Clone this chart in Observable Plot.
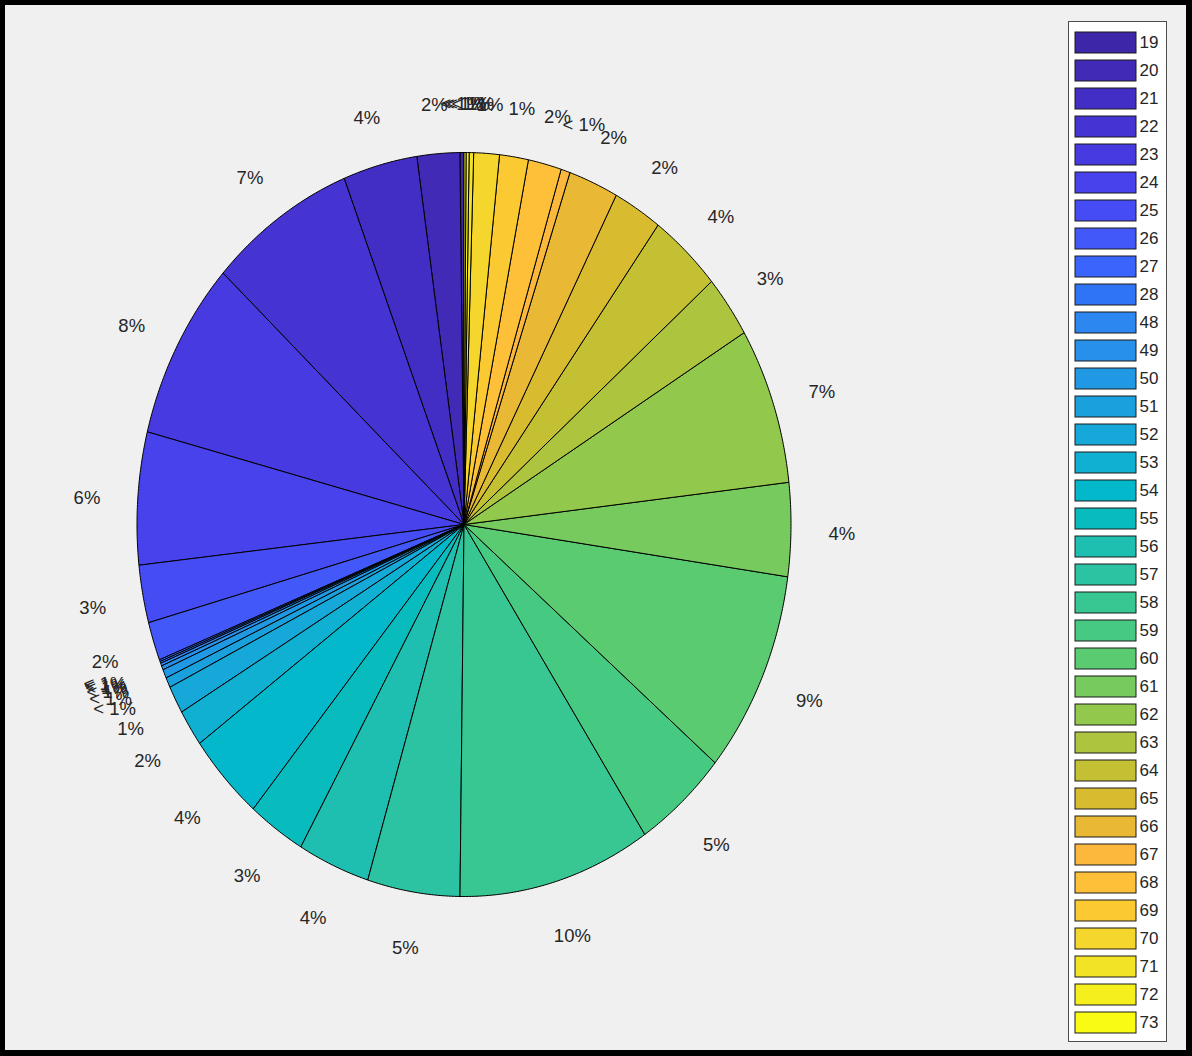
<!DOCTYPE html>
<html>
<head>
<meta charset="utf-8">
<script src="https://cdn.jsdelivr.net/npm/d3@7"></script>
<script src="https://cdn.jsdelivr.net/npm/@observablehq/plot@0.6"></script>
<style>
  body { margin: 0; background: #f0f0f0; font-family: "Liberation Sans", Arial, sans-serif; }
  #frame { position: absolute; left: 0; top: 0; width: 1192px; height: 1056px; box-sizing: border-box;
           border: solid #000; border-width: 5px 6px 6px 5px; pointer-events: none; }
  #pie { position: absolute; left: 0; top: 0; }
  #legend { position: absolute; left: 1068px; top: 21px; border: 1px solid #4d4d4d; background: #fff; line-height: 0; }
</style>
</head>
<body>
<div id="pie"></div>
<div id="legend"></div>
<div id="frame"></div>
<script>
// ---- data ----
const categories = ["19","20","21","22","23","24","25","26","27","28",
  "48","49","50","51","52","53","54","55","56","57","58","59","60","61","62","63",
  "64","65","66","67","68","69","70","71","72","73"];
const shares = [0.2, 2.1, 3.66, 7.2, 7.79, 5.74, 2.5, 1.67, 0.08, 0.08,
  0.12, 0.18, 0.38, 0.44, 1.2, 1.6, 3.83, 2.83, 3.55, 4.55, 9.5, 4.6, 8.8, 4.05, 6.8, 2.7,
  3.55, 2.4, 2.45, 0.45, 1.64, 1.42, 1.26, 0.22, 0.15, 0.1];

// ---- style ----
const colors = [
  "#3e26a8","#402ab6","#422ec4","#4534d2","#473ae0","#4742eb","#464cf3","#4258f9","#3b64fc","#3074f6",
  "#2c87f0","#2690ea","#2098e4","#1ba0de","#16a8d8","#10b0d2","#04b8cc","#08bcbe","#1ebfb0","#2cc3a2",
  "#38c792","#46ca82","#5acb70","#76ca5e","#92c94c","#acc43e","#c4c034","#d8bb2e","#e9b834","#fbb83c",
  "#fdc038","#fbca32","#f5d62c","#f2e326","#f5ef1e","#f9fb14"];
const CX = 463.5, CY = 524, RX = 327, RY = 372;   // pie centre and radii (px)
const FS = 18.5;                                   // label font size
const labelK = 1.115;                              // label anchor radius (pie radii)
const charW = {"<": 0.584, " ": 0.278, "%": 0.889};

const total = d3.sum(shares);
let acc = 0;
const slices = categories.map((c, i) => {
  const a0 = acc / total * 2 * Math.PI;
  acc += shares[i];
  const a1 = acc / total * 2 * Math.PI;
  const p = shares[i] / total * 100;
  const label = Math.round(p) === 0 ? "< 1%" : `${Math.round(p)}%`;
  const mid = (a0 + a1) / 2;
  const ux = -Math.sin(mid), uy = Math.cos(mid);        // direction (counterclockwise from 12 o'clock)
  const w = FS * d3.sum([...label], ch => charW[ch] ?? 0.556);
  // push the text box outward so its near edge sits on the anchor ellipse
  const x = labelK * ux + (w / 2) * ux / RX;
  const y = labelK * uy + 10 * uy / RY;
  return {cat: c, a0, a1, mid, label, x, y};
});

// polygon outline of each wedge
const outline = [];
for (const s of slices) {
  outline.push({cat: s.cat, x: 0, y: 0});
  const n = Math.max(2, Math.ceil((s.a1 - s.a0) / (Math.PI / 360)));
  for (let k = 0; k <= n; ++k) {
    const a = s.a0 + (s.a1 - s.a0) * k / n;
    outline.push({cat: s.cat, x: -Math.sin(a), y: Math.cos(a)});
  }
  outline.push({cat: s.cat, x: 0, y: 0});
}

const pie = Plot.plot({
  width: 1192,
  height: 1056,
  margin: 0,
  style: "background: transparent; overflow: visible; font-family: 'Liberation Sans', Arial, sans-serif;",
  x: {domain: [-1, 1], range: [CX - RX, CX + RX], axis: null},
  y: {domain: [-1, 1], range: [CY + RY, CY - RY], axis: null},
  color: {domain: categories, range: colors},
  marks: [
    Plot.line(outline, {x: "x", y: "y", z: "cat", fill: "cat", stroke: "#000", strokeWidth: 1, curve: "linear"}),
    Plot.text(slices, {x: "x", y: "y", dy: 4, text: "label", fontSize: FS, fill: "#262626", textAnchor: "middle"})
  ]
});
document.getElementById("pie").append(pie);

const legend = Plot.plot({
  width: 97,
  height: 1019,
  margin: 0,
  style: "background: #fff; font-family: 'Liberation Sans', Arial, sans-serif;",
  x: {domain: [0, 1], range: [6, 67], axis: null},
  y: {type: "band", domain: categories, range: [2.6, 1017.4], paddingInner: 0.265, paddingOuter: 0.1325, axis: null},
  color: {domain: categories, range: colors},
  marks: [
    Plot.barX(categories, {x1: 0, x2: 1, y: d => d, fill: d => d, stroke: "#1a1a1a", strokeWidth: 1}),
    Plot.text(categories, {x: 1, dx: 3, y: d => d, text: d => d, textAnchor: "start", fontSize: 17, fill: "#262626"})
  ]
});
document.getElementById("legend").append(legend);
</script>
</body>
</html>
